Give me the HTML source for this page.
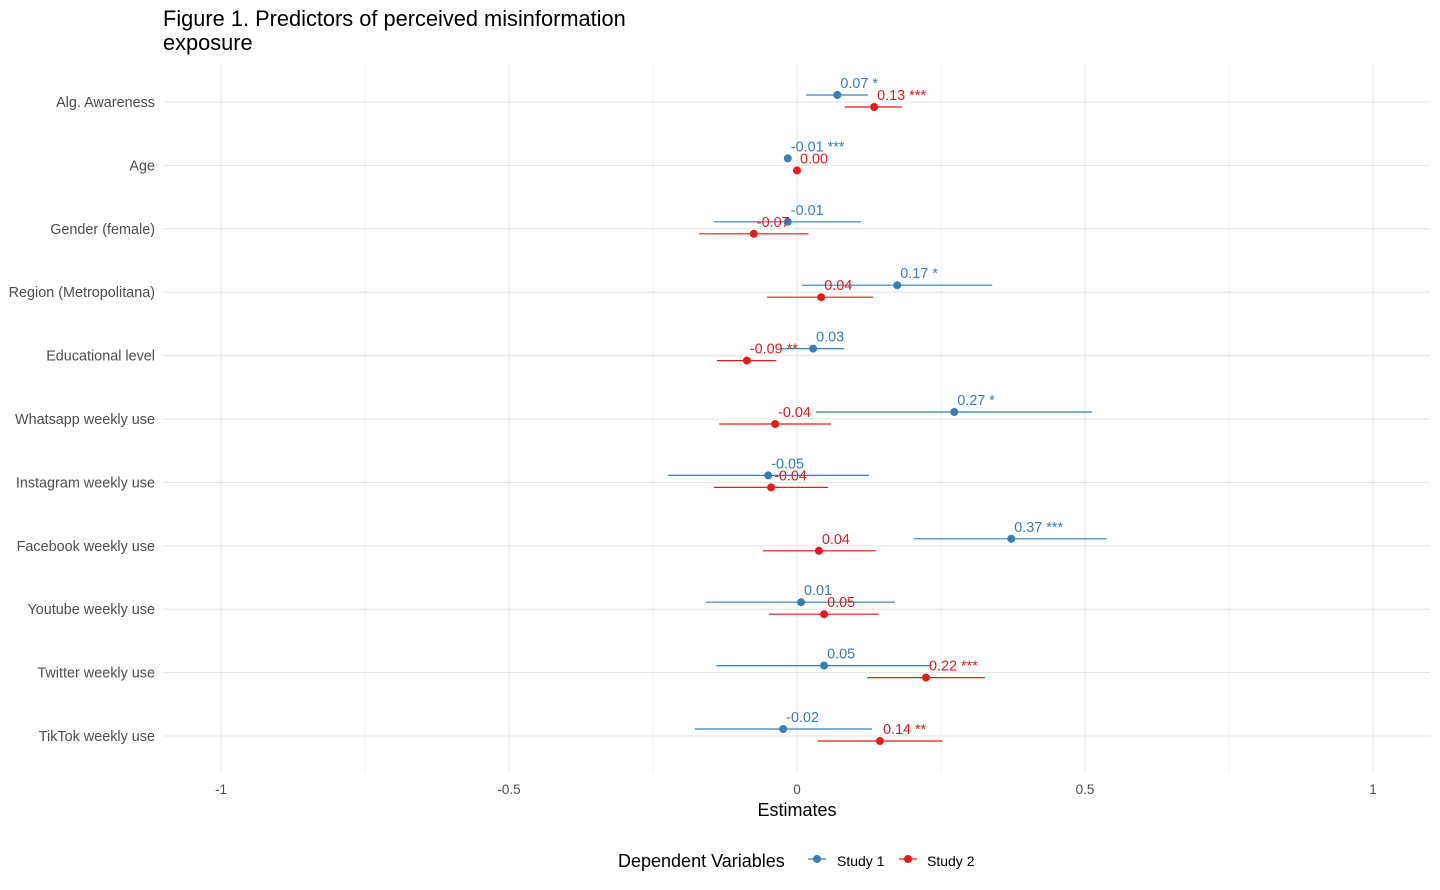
<!DOCTYPE html>
<html><head><meta charset="utf-8"><style>
body{margin:0;background:#fff;font-family:"Liberation Sans",sans-serif;}
svg{display:block}
</style></head><body>
<svg id="chart" width="1440" height="890" xmlns="http://www.w3.org/2000/svg">
<text x="163" y="26" font-size="21.8" fill="#000">Figure 1. Predictors of perceived misinformation</text>
<text x="163" y="50" font-size="21.8" fill="#000">exposure</text>
<g id="grid"></g><g id="marks"></g><g id="labels"></g>
<text x="797" y="816" font-size="18" text-anchor="middle" fill="#000">Estimates</text>
<g>
<text x="618" y="867" font-size="18" fill="#000">Dependent Variables</text>
<g><line x1="808" x2="826" y1="859" y2="859" stroke="#377eb8" stroke-width="1.2"/><circle cx="817" cy="859" r="4" fill="#377eb8"/><text x="837" y="866" font-size="14" fill="#000">Study 1</text></g>
<g><line x1="899" x2="917" y1="859" y2="859" stroke="#e41a1c" stroke-width="1.2"/><circle cx="908" cy="859" r="4" fill="#e41a1c"/><text x="927" y="866" font-size="14" fill="#000">Study 2</text></g>
</g>
</svg>
<script>
const categories=["Alg. Awareness","Age","Gender (female)","Region (Metropolitana)","Educational level","Whatsapp weekly use","Instagram weekly use","Facebook weekly use","Youtube weekly use","Twitter weekly use","TikTok weekly use"];
const s1Est=[0.07,-0.016,-0.016,0.174,0.028,0.273,-0.05,0.372,0.007,0.047,-0.024];
const s1Lo=[0.016,-0.02,-0.144,0.009,-0.03,0.033,-0.224,0.203,-0.158,-0.14,-0.177];
const s1Hi=[0.123,-0.012,0.111,0.339,0.082,0.512,0.125,0.538,0.17,0.234,0.13];
const s1Lab=["0.07 *","-0.01 ***","-0.01","0.17 *","0.03","0.27 *","-0.05","0.37 ***","0.01","0.05","-0.02"];
const s2Est=[0.134,0.0,-0.075,0.042,-0.087,-0.038,-0.045,0.038,0.047,0.224,0.144];
const s2Lo=[0.083,-0.004,-0.17,-0.052,-0.139,-0.135,-0.144,-0.059,-0.049,0.122,0.036];
const s2Hi=[0.182,0.004,0.02,0.132,-0.036,0.059,0.054,0.137,0.142,0.326,0.252];
const s2Lab=["0.13 ***","0.00","-0.07","0.04","-0.09 **","-0.04","-0.04","0.04","0.05","0.22 ***","0.14 **"];
const xTicks=[-1,-0.5,0,0.5,1];
const xTickLabels=["-1","-0.5","0","0.5","1"];
const xMinor=[-0.75,-0.25,0.25,0.75];
const NS="http://www.w3.org/2000/svg";
const x=v=>797+v*576;
const y=i=>102+i*63.4;
function mk(tag,attrs,parent){const e=document.createElementNS(NS,tag);for(const k in attrs)e.setAttribute(k,attrs[k]);parent.appendChild(e);return e;}
const grid=document.getElementById('grid'),marks=document.getElementById('marks'),labels=document.getElementById('labels');
const plotTop=63,plotBot=772,left=163,right=1430;
xMinor.forEach(v=>{const l=mk('line',{x1:x(v),x2:x(v),y1:plotTop,y2:plotBot,stroke:'#f0f0f0','stroke-width':1},grid);

});
xTicks.forEach((v,i)=>{const l=mk('line',{x1:x(v),x2:x(v),y1:plotTop,y2:plotBot,stroke:'#e6e6e6','stroke-width':1.1},grid);


const t=mk('text',{x:x(v),y:794,'font-size':13.5,'text-anchor':'middle',fill:'#4d4d4d'},labels);t.textContent=xTickLabels[i];

});
categories.forEach((c,i)=>{const l=mk('line',{x1:left,x2:right,y1:y(i),y2:y(i),stroke:'#e6e6e6','stroke-width':1.1},grid);


const t=mk('text',{x:155,y:y(i)+5,'font-size':14.4,'text-anchor':'end',fill:'#4d4d4d'},labels);t.textContent=c;

});
function series(est,lo,hi,lab,col,off,name){
 est.forEach((v,i)=>{const cy=y(i)+off;
  const l=mk('line',{x1:x(lo[i]),x2:x(hi[i]),y1:cy,y2:cy,stroke:col,'stroke-width':1.2},marks);
  
  
  const c=mk('circle',{cx:x(v),cy:cy,r:4,fill:col},marks);
  
  
  const t=mk('text',{x:x(v)+3,y:cy-7,'font-size':14.4,fill:col},labels);t.textContent=lab[i];
  
  
 });}
series(s1Est,s1Lo,s1Hi,s1Lab,'#377eb8',-7,'study1');
series(s2Est,s2Lo,s2Hi,s2Lab,'#e41a1c',5,'study2');
</script>
</body></html>
